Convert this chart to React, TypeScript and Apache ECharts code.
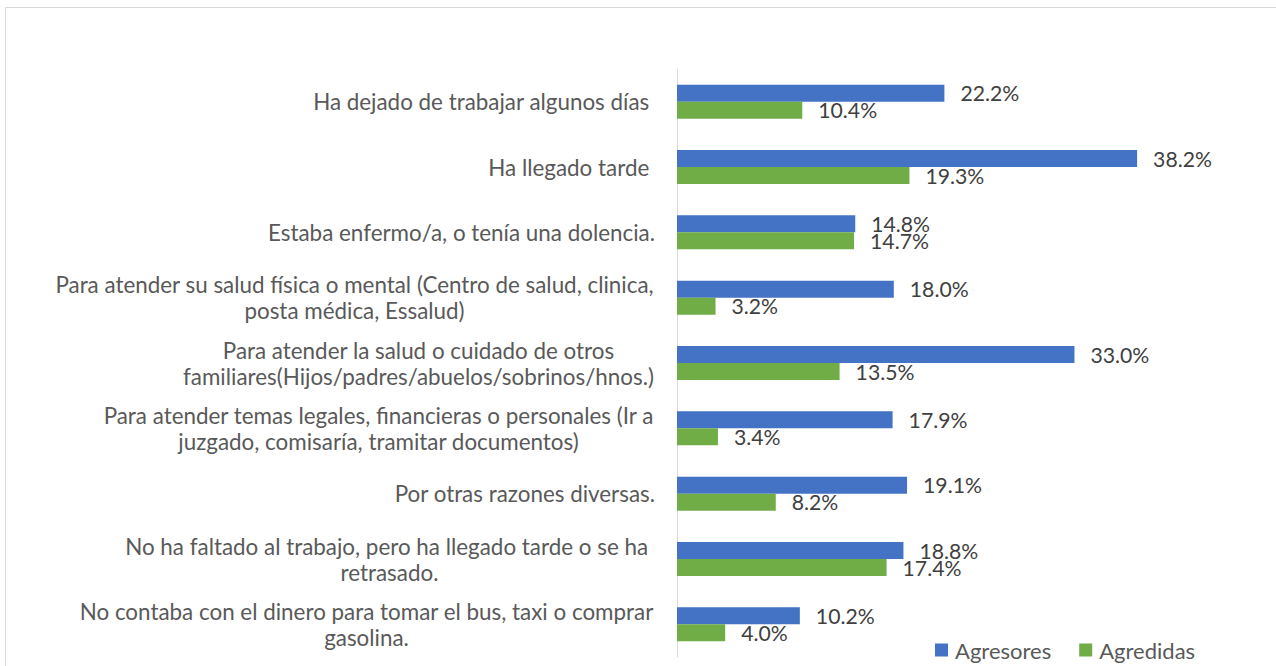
import React, { useEffect, useRef } from "react";
import * as echarts from "echarts";

const categories: string[] = [
  "Ha dejado de trabajar algunos días ",
  "Ha llegado tarde ",
  "Estaba enfermo/a, o tenía una dolencia.",
  "Para atender su salud física o mental (Centro de salud, clinica,\nposta médica, Essalud)",
  "Para atender la salud o cuidado de otros\nfamiliares(Hijos/padres/abuelos/sobrinos/hnos.)",
  "Para atender temas legales, financieras o personales (Ir a\njuzgado, comisaría, tramitar documentos)",
  "Por otras razones diversas.",
  "No ha faltado al trabajo, pero ha llegado tarde o se ha \nretrasado.",
  "No contaba con el dinero para tomar el bus, taxi o comprar\ngasolina.",
];

const agresores: number[] = [22.2, 38.2, 14.8, 18.0, 33.0, 17.9, 19.1, 18.8, 10.2];
const agredidas: number[] = [10.4, 19.3, 14.7, 3.2, 13.5, 3.4, 8.2, 17.4, 4.0];

const seriesNames: string[] = ["Agresores", "Agredidas"];

const FONT = "Lato, 'Noto Sans', sans-serif";
const FS_CAT = 22.4;
const FS_VAL = 21.2;
const FS_LEG = 22;

function measure(text: string): number {
  const c = document.createElement("canvas");
  const ctx = c.getContext("2d")!;
  ctx.font = `${FS_CAT}px ${FONT}`;
  return ctx.measureText(text).width;
}

export default function App() {
  const ref = useRef<HTMLDivElement>(null);
  useEffect(() => {
    if (!ref.current) return;
    const chart = echarts.init(ref.current, null, { renderer: "svg" });
    const rich: Record<string, any> = {};
    categories.forEach((c, i) => {
      const lines = c.split("\n");
      const w = Math.max(...lines.map((l) => measure(l)));
      rich["l" + i] = {
        width: lines.length > 1 ? Math.ceil(w) + 2 : undefined,
        align: lines.length > 1 ? "center" : "right",
        fontSize: FS_CAT,
        fontFamily: FONT,
        color: "#595959",
        lineHeight: 26,
      };
    });
    const valLabel = {
      show: true,
      position: "right",
      distance: 16,
      fontSize: FS_VAL,
      fontFamily: FONT,
      color: "#404040",
      formatter: (p: any) => `${Number(p.value).toFixed(1)}%`,
    };
    chart.setOption({
      animation: false,
      graphic: [
        {
          type: "rect",
          shape: { x: 5.5, y: 7.5, width: 1400, height: 800 },
          style: { fill: "none", stroke: "#d9d9d9", lineWidth: 1 },
          silent: true,
        },
      ],
      grid: { left: 677, right: 57, top: 69, bottom: 9, containLabel: false },
      legend: {
        left: 935,
        top: 639,
        padding: 0,
        icon: "rect",
        itemWidth: 13,
        itemHeight: 13,
        itemGap: 28,
        data: seriesNames,
        textStyle: { fontSize: FS_LEG, fontFamily: FONT, color: "#595959", padding: [0, 0, 0, 2] },
      },
      xAxis: {
        type: "value",
        min: 0,
        max: 45,
        show: false,
        splitLine: { show: false },
      },
      yAxis: {
        type: "category",
        inverse: true,
        data: categories,
        axisLine: { show: true, lineStyle: { color: "#d9d9d9", width: 1 } },
        axisTick: { show: false },
        axisLabel: {
          margin: 22,
          formatter: (v: string, idx: number) =>
            v
              .split("\n")
              .map((l) => `{l${idx}|${l}}`)
              .join("\n"),
          rich,
        },
      },
      series: [
        {
          name: seriesNames[0],
          type: "bar",
          data: agresores,
          barWidth: 17,
          barGap: "0%",
          itemStyle: { color: "#4472C4" },
          label: valLabel,
        },
        {
          name: seriesNames[1],
          type: "bar",
          data: agredidas,
          barWidth: 17,
          barGap: "0%",
          itemStyle: { color: "#70AD47" },
          label: valLabel,
        },
      ],
    });
    return () => chart.dispose();
  }, []);
  return (
    <div
      ref={ref}
      style={{ position: "fixed", left: 0, top: 0, width: 1276, height: 666, background: "#fff" }}
    />
  );
}
